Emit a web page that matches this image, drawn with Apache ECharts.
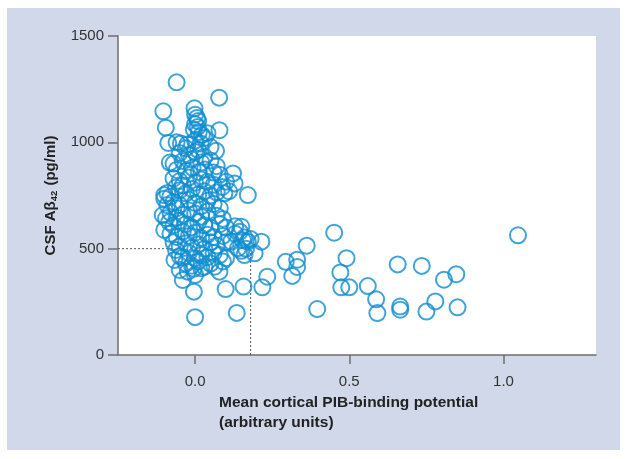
<!DOCTYPE html>
<html>
<head>
<meta charset="utf-8">
<script src="https://cdn.jsdelivr.net/npm/echarts@6/dist/echarts.min.js"></script>
<style>
  html, body { margin: 0; padding: 0; background: #fff; }
  #bg { position: absolute; left: 7px; top: 8px; width: 613px; height: 442px; background: #d0d8ea; }
  #main { position: absolute; left: 0; top: 0; width: 630px; height: 459px; }
</style>
</head>
<body>
<div id="bg"></div>
<div id="main"></div>
<script>
  // points: [PIB binding potential, CSF Abeta42]
  const clusterPoints = [
    [-0.06, 1282], [0.078, 1210], [-0.103, 1146], [-0.002, 1160], [-0.095, 1069], [0.079, 1057],
    [-0.087, 997], [0.068, 960], [0.04, 1043], [-0.046, 995],
    [0.0, 1130], [0.006, 1115], [0.01, 1100], [0.0, 1085], [0.008, 1072], [-0.004, 1060],
    [0.012, 1048], [0.022, 1035], [0.03, 1020],
    [-0.06, 1000], [-0.025, 990], [0.0, 1008], [0.018, 995], [-0.03, 972], [0.01, 965], [0.05, 978],
    [-0.05, 950], [-0.02, 940], [0.0, 955], [0.03, 932], [-0.07, 900], [-0.082, 905], [-0.04, 912],
    [-0.012, 920], [0.02, 905], [0.05, 915], [0.07, 888],
    [-0.06, 870], [-0.03, 865], [-0.008, 880], [0.012, 860], [0.032, 872], [0.06, 858], [0.08, 848],
    [0.123, 854], [0.128, 807],
    [-0.07, 830], [-0.05, 818], [-0.02, 835], [0.0, 810], [0.02, 825], [0.04, 815], [0.06, 800],
    [-0.04, 798], [-0.062, 788], [0.1, 815], [0.088, 790],
    [-0.1, 752], [-0.09, 762], [-0.08, 745], [-0.05, 775], [-0.03, 760], [-0.01, 780], [0.01, 755],
    [0.03, 770], [0.05, 750], [0.07, 765], [0.095, 760], [0.171, 752], [0.11, 770],
    [-0.1, 735], [-0.07, 720], [-0.05, 705], [-0.02, 730], [0.0, 715], [0.02, 700], [0.04, 725],
    [0.06, 710], [0.08, 690], [-0.06, 690], [-0.09, 705],
    [-0.105, 658], [-0.094, 643], [-0.08, 670], [-0.04, 660], [-0.02, 680], [0.0, 665], [0.02, 650],
    [0.04, 675], [0.07, 655], [0.09, 640], [-0.06, 645],
    [-0.1, 588], [-0.084, 625], [-0.07, 610], [-0.05, 630], [-0.03, 615], [-0.01, 600], [0.01, 625],
    [0.03, 610], [0.05, 600], [0.08, 615], [0.1, 600], [0.13, 605], [0.15, 603], [0.145, 580],
    [-0.08, 570], [-0.06, 555], [-0.04, 580], [-0.02, 560], [0.0, 575], [0.02, 550], [0.04, 565],
    [0.06, 555], [0.09, 560], [0.13, 570], [0.16, 552], [0.18, 545], [0.155, 540],
    [-0.07, 530], [-0.062, 494], [-0.05, 510], [-0.03, 525], [-0.01, 505], [0.01, 520], [0.03, 500],
    [0.05, 530], [0.07, 515], [0.1, 530], [0.117, 533], [0.139, 502], [0.171, 533], [0.215, 533],
    [0.165, 500], [0.15, 490],
    [-0.067, 447], [-0.05, 465], [-0.04, 458], [-0.02, 480], [0.0, 455], [0.02, 470], [0.04, 460],
    [0.06, 480], [0.08, 470], [0.16, 470], [0.193, 478], [0.1, 455],
    [-0.05, 400], [-0.03, 430], [-0.024, 392], [-0.01, 420], [0.01, 440], [0.02, 408], [0.03, 415],
    [0.05, 430], [0.063, 415], [0.079, 392], [0.09, 440], [0.0, 376], [-0.005, 405],
    [-0.04, 353], [-0.004, 298], [0.0, 178], [0.099, 310], [0.157, 322], [0.135, 198], [0.218, 318],
    [0.234, 368]
  ]

  const tailPoints = [
    [0.294, 438], [0.315, 372], [0.331, 448], [0.331, 414], [0.362, 514], [0.451, 575],
    [0.491, 455], [0.471, 388], [0.474, 318], [0.5, 318], [0.396, 216], [0.56, 324],
    [0.587, 262], [0.591, 197], [0.657, 426], [0.665, 228], [0.665, 213], [0.735, 419],
    [0.75, 204], [0.779, 252], [0.807, 354], [0.847, 380], [0.851, 224], [1.047, 563]
  ]

  // dotted guide lines (cut-off values)
  const guideH = [[-0.25, 500], [-0.07, 500]]
  const guideV = [[0.18, 0], [0.18, 490]]

  const xTicks = [0.0, 0.5, 1.0]
  const yTicks = [0, 500, 1000, 1500]

  const font = "'Liberation Sans', Arial, sans-serif"
  const blue = '#108dd0'
  const axisGrey = '#6e6e6e'

  const chart = echarts.init(document.getElementById('main'))

  const option = {
    animation: false,
    textStyle: { fontFamily: font },
    grid: {
      left: 118,
      top: 36,
      right: 34,
      bottom: 104,
      show: true,
      backgroundColor: '#fff',
      borderWidth: 0,
    },
    xAxis: {
      type: 'value',
      min: -0.25,
      max: 1.3,
      interval: 0.5,
      splitLine: { show: false },
      axisLine: { onZero: false, lineStyle: { color: axisGrey, width: 1.5 } },
      axisTick: { length: 9, lineStyle: { color: axisGrey, width: 1.5 }, customValues: xTicks },
      axisLabel: {
        color: '#333',
        fontSize: 15,
        margin: 19,
        customValues: xTicks,
        formatter: (v) => v.toFixed(1),
      },
      name: '{t|Mean cortical PIB-binding potential}\n{t|(arbitrary units)}',
      nameLocation: 'middle',
      nameGap: 38,
      nameTextStyle: {
        rich: {
          t: { width: 276, align: 'left', fontSize: 15.5, fontWeight: 'bold', color: '#222', lineHeight: 20, fontFamily: font },
        },
      },
    },
    yAxis: {
      type: 'value',
      min: 0,
      max: 1500,
      interval: 500,
      splitLine: { show: false },
      axisLine: { show: true, onZero: false, lineStyle: { color: axisGrey, width: 1.5 } },
      axisTick: { show: true, length: 10, lineStyle: { color: axisGrey, width: 1.5 }, customValues: yTicks },
      axisLabel: { color: '#333', fontSize: 15, margin: 14, customValues: yTicks, formatter: (v) => String(v) },
      name: '{t|CSF Aβ}{s|42}{t| (pg/ml)}',
      nameLocation: 'middle',
      nameGap: 59,
      nameTextStyle: {
        rich: {
          t: { fontSize: 15, fontWeight: 'bold', color: '#222', fontFamily: font },
          s: { fontSize: 9.5, fontWeight: 'bold', color: '#222', fontFamily: font, padding: [7, 1, 0, 0] },
        },
      },
    },
    series: [
      {
        type: 'line',
        data: guideH,
        symbol: 'none',
        silent: true,
        lineStyle: { color: '#555', width: 1, type: [2, 2] },
        z: 1,
      },
      {
        type: 'line',
        data: guideV,
        symbol: 'none',
        silent: true,
        lineStyle: { color: '#555', width: 1, type: [2, 2] },
        z: 1,
      },
      {
        type: 'scatter',
        data: clusterPoints.concat(tailPoints),
        symbol: 'circle',
        symbolSize: 16,
        itemStyle: { color: 'rgba(0,0,0,0)', borderColor: blue, borderWidth: 2 },
        z: 3,
      },
    ],
  }

  chart.setOption(option)
</script>
</body>
</html>
